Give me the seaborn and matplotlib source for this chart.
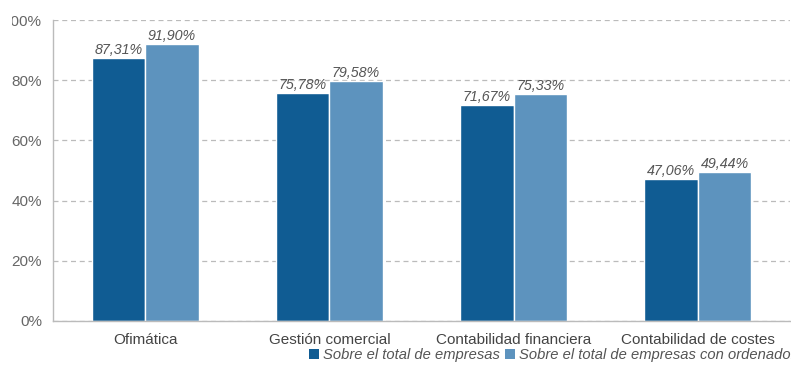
import matplotlib
matplotlib.use("Agg")
import matplotlib.pyplot as plt
import seaborn as sns
import pandas as pd
from matplotlib.patches import Patch
from matplotlib.ticker import FixedLocator
from matplotlib.transforms import Bbox, TransformedBbox

categories = ["Ofimática", "Gestión comercial", "Contabilidad financiera", "Contabilidad de costes"]
series_names = ["Sobre el total de empresas", "Sobre el total de empresas con ordenador"]
total_empresas = [87.31, 75.78, 71.67, 47.06]
con_ordenador = [91.90, 79.58, 75.33, 49.44]
y_ticks = [0, 20, 40, 60, 80, 100]

colors = ["#105c93", "#5d93be"]

df = pd.DataFrame({
    "categoria": categories * 2,
    "serie": [series_names[0]] * 4 + [series_names[1]] * 4,
    "valor": total_empresas + con_ordenador,
})

sns.set_style("white")
plt.rcParams["font.family"] = ["Liberation Sans", "DejaVu Sans"]

fig = plt.figure(figsize=(7.91, 3.74), dpi=100)
ax = fig.add_axes([53 / 791, 1 - 321 / 374, 737 / 791, 301 / 374])

sns.barplot(data=df, x="categoria", y="valor", hue="serie", palette=colors,
            width=0.58, saturation=1, ax=ax, legend=False)

ax.set_ylim(0, 100)
ax.set_xlim(-0.5, 3.5)
ax.set_yticks(y_ticks)
ax.set_yticklabels([f"{t}%" for t in y_ticks], color="#666666", fontsize=11)
ax.tick_params(axis="x", length=0, labelsize=11, labelcolor="#444444", pad=9)
ax.tick_params(axis="y", length=0, pad=8)
ax.xaxis.set_minor_locator(FixedLocator([0.5, 1.5, 2.5]))
ax.tick_params(axis="x", which="minor", length=3, color="#bbbbbb", direction="out")
ax.set_xlabel("")
ax.set_ylabel("")

# the page margin trims the left edge of the y labels
margin = TransformedBbox(Bbox([[11.5 / 791, 0], [1, 1]]), fig.transFigure)
for lbl in ax.get_yticklabels():
    lbl.set_clip_box(margin)
    lbl.set_clip_on(True)

ax.grid(axis="y", linestyle=(0, (4, 3)), color="#bbbbbb", linewidth=0.9)
ax.set_axisbelow(True)
for side in ["top", "right"]:
    ax.spines[side].set_visible(False)
for side in ["left", "bottom"]:
    ax.spines[side].set_color("#bbbbbb")
    ax.spines[side].set_linewidth(1)

for cont in ax.containers:
    ax.bar_label(cont, fmt=lambda v: f"{v:.2f}%".replace(".", ","),
                 fontsize=10.3, style="italic", color="#555555", padding=1)

handles = [Patch(facecolor=c, edgecolor="none") for c in colors]
fig.legend(handles, series_names, loc="center left",
           bbox_to_anchor=(309 / 791, 1 - 355 / 374), ncol=2, frameon=False,
           handlelength=0.7, handleheight=0.7, handletextpad=0.25,
           columnspacing=0.35, borderaxespad=0, borderpad=0,
           prop={"size": 10.6, "style": "italic"}, labelcolor="#555555")

fig.savefig("out.png", dpi=100)
